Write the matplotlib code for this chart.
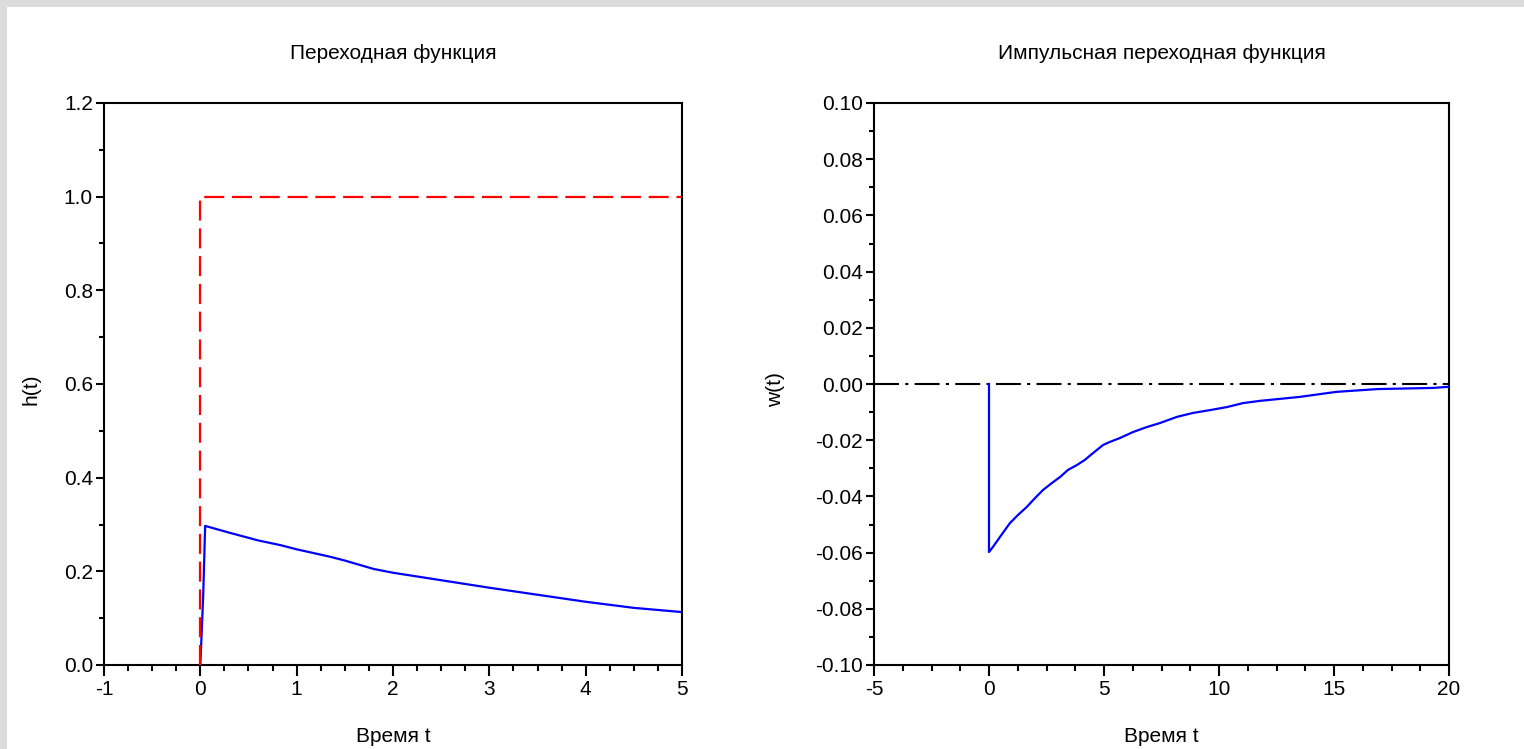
import matplotlib.pyplot as plt
from matplotlib.patches import Rectangle
from matplotlib.ticker import MultipleLocator, FuncFormatter

plt.rcParams['font.family'] = ['Liberation Sans', 'DejaVu Sans']
plt.rcParams['axes.unicode_minus'] = False

# step response h(t)
t_h = [0, 0.01, 0.03, 0.05, 0.31, 0.6, 0.83, 1.0, 1.35, 1.5, 1.8, 2.0, 2.5,
       3.0, 3.5, 4.0, 4.5, 5.0]
h = [0, 0.05, 0.15, 0.297, 0.282, 0.266, 0.256, 0.247, 0.231, 0.223, 0.205,
     0.197, 0.181, 0.165, 0.150, 0.135, 0.122, 0.113]

# unit step input
t_step = [0, 0, 5]
u_step = [0, 1, 1]

# impulse response w(t)
t_w = [0, 0, 0.17, 0.48, 0.91, 1.26, 1.65, 2.0, 2.35, 2.74, 3.09, 3.43, 3.83,
       4.17, 4.52, 4.96, 5.26, 5.7, 6.26, 6.87, 7.43, 8.17, 8.87, 9.6, 10.35,
       11.04, 11.78, 13.5, 15.1, 16.9, 19.3, 20]
w = [0, -0.0598, -0.058, -0.0544, -0.0495, -0.0466, -0.0437, -0.0406, -0.0377,
     -0.0352, -0.0331, -0.0306, -0.0288, -0.027, -0.0246, -0.0217, -0.0206,
     -0.0192, -0.0171, -0.0153, -0.0139, -0.0117, -0.0103, -0.0093, -0.0082,
     -0.0068, -0.006, -0.0046, -0.0028, -0.0018, -0.0014, -0.001]

t_zero = [-5, 20]
w_zero = [0, 0]

FS = 15

fig = plt.figure(figsize=(15.24, 7.49), dpi=100, facecolor='#dcdcdc')
fig.patches.append(Rectangle((7 / 1524, 0), 1, 1 - 7 / 749, transform=fig.transFigure,
                             facecolor='white', edgecolor='none', zorder=-5))

ax1 = fig.add_axes([104 / 1524, 1 - 665 / 749, 578 / 1524, 562 / 749])
ax2 = fig.add_axes([874 / 1524, 1 - 665 / 749, 575 / 1524, 562 / 749])


def fmt(digits):
    def f(v, pos):
        s = f'{v:.{digits}f}'
        if s.startswith('-') and float(s) == 0:
            s = s[1:]
        return s
    return FuncFormatter(f)


def style(ax):
    for s in ax.spines.values():
        s.set_linewidth(1.5)
    ax.tick_params(which='both', direction='out', width=1.5, labelsize=FS, top=False, right=False)
    ax.tick_params(axis='x', which='major', length=8, pad=3)
    ax.tick_params(axis='x', which='minor', length=4.5)
    ax.tick_params(axis='y', which='major', length=6, pad=2)
    ax.tick_params(axis='y', which='minor', length=3.5)


# left: Переходная функция
ax1.plot(t_h, h, color='blue', lw=1.6, zorder=2)
ax1.plot(t_step, u_step, color='red', lw=1.6, dashes=(9, 3.5), zorder=3)
ax1.set_xlim(-1, 5)
ax1.set_ylim(0, 1.2)
ax1.xaxis.set_major_locator(MultipleLocator(1))
ax1.xaxis.set_minor_locator(MultipleLocator(0.25))
ax1.yaxis.set_major_locator(MultipleLocator(0.2))
ax1.yaxis.set_minor_locator(MultipleLocator(0.1))
ax1.xaxis.set_major_formatter(fmt(0))
ax1.yaxis.set_major_formatter(fmt(1))
ax1.set_title('Переходная функция', fontsize=FS, pad=32)
ax1.set_xlabel('Время t', fontsize=FS)
ax1.set_ylabel('h(t)', fontsize=FS)
ax1.xaxis.set_label_coords(0.5, -0.11)
ax1.yaxis.set_label_coords(-0.11, 0.49)
style(ax1)

# right: Импульсная переходная функция
ax2.plot(t_zero, w_zero, color='black', lw=1.5, linestyle=(0, (12, 3, 1.5, 3)), zorder=2)
ax2.plot(t_w, w, color='blue', lw=1.6, zorder=3)
ax2.set_xlim(-5, 20)
ax2.set_ylim(-0.1, 0.1)
ax2.xaxis.set_major_locator(MultipleLocator(5))
ax2.xaxis.set_minor_locator(MultipleLocator(1.25))
ax2.yaxis.set_major_locator(MultipleLocator(0.02))
ax2.yaxis.set_minor_locator(MultipleLocator(0.01))
ax2.xaxis.set_major_formatter(fmt(0))
ax2.yaxis.set_major_formatter(fmt(2))
ax2.set_title('Импульсная переходная функция', fontsize=FS, pad=32)
ax2.set_xlabel('Время t', fontsize=FS)
ax2.set_ylabel('w(t)', fontsize=FS)
ax2.xaxis.set_label_coords(0.5, -0.11)
ax2.yaxis.set_label_coords(-0.155, 0.49)
style(ax2)

fig.savefig('out.png', dpi=100, facecolor=fig.get_facecolor())
